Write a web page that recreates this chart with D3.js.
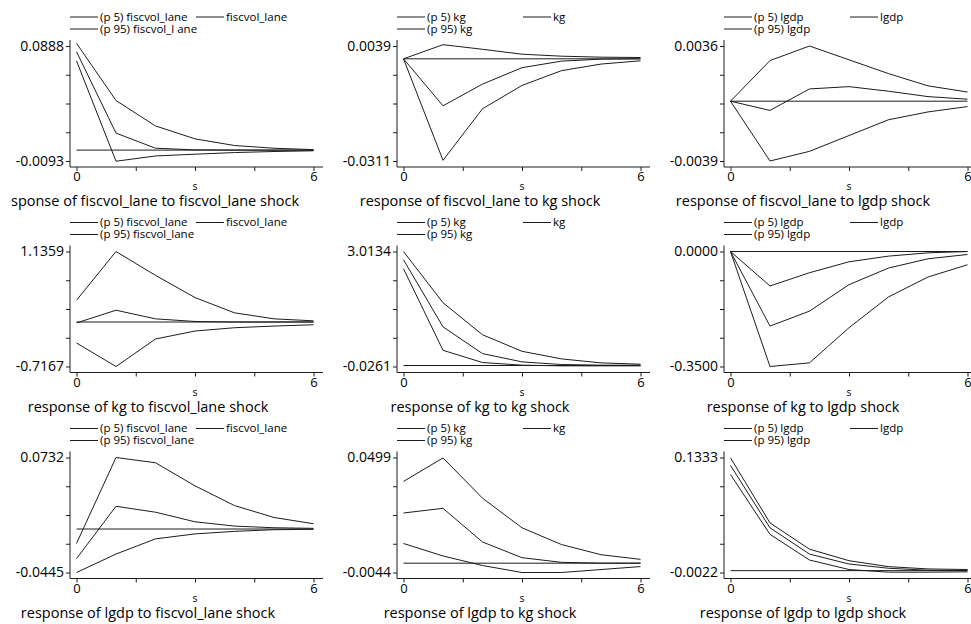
<!DOCTYPE html>
<html>
<head>
<meta charset="utf-8">
<script src="https://cdn.jsdelivr.net/npm/d3@7"></script>
<style>
  html, body { margin: 0; padding: 0; background: #fff; }
  svg { display: block; }
  text { font-family: "Open Sans", "Noto Sans", sans-serif; fill: #000; }
</style>
</head>
<body>
<svg id="chart" width="971" height="624"></svg>
<script>
// ---------------- data ----------------
const steps = [0, 1, 2, 3, 4, 5, 6];
const responseVars = ["fiscvol_lane", "kg", "lgdp"];   // rows
const impulseVars  = ["fiscvol_lane", "kg", "lgdp"];   // columns
const xTickValues = [0, 1.5, 3, 4.5, 6];
const xTickLabels = ["0", "", "", "", "6"];

// y-axis tick labels (min, max) per panel, row-major
const yMinLabels = ["-0.0093", "-0.0311", "-0.0039", "-0.7167", "-0.0261", "-0.3500", "-0.0445", "-0.0044", "-0.0022"];
const yMaxLabels = ["0.0888", "0.0039", "0.0036", "1.1359", "3.0134", "0.0000", "0.0732", "0.0499", "0.1333"];

// legend labels per panel
const legendP5  = ["(p 5) fiscvol_lane", "(p 5) kg", "(p 5) lgdp", "(p 5) fiscvol_lane", "(p 5) kg", "(p 5) lgdp", "(p 5) fiscvol_lane", "(p 5) kg", "(p 5) lgdp"];
const legendMid = ["fiscvol_lane", "kg", "lgdp", "fiscvol_lane", "kg", "lgdp", "fiscvol_lane", "kg", "lgdp"];
const legendP95 = ["(p 95) fiscvol_l ane", "(p 95) kg", "(p 95) lgdp", "(p 95) fiscvol_lane", "(p 95) kg", "(p 95) lgdp", "(p 95) fiscvol_lane", "(p 95) kg", "(p 95) lgdp"];

// response of fiscvol_lane to fiscvol_lane shock
const p5_fv_fv  = [0.0761, -0.0095, -0.0050, -0.0035, -0.0021, -0.0012, -0.0006];
const irf_fv_fv = [0.0839, 0.0145, 0.0016, 0.0002, 0.0000, 0.0000, 0.0000];
const p95_fv_fv = [0.0911, 0.0423, 0.0206, 0.0096, 0.0039, 0.0016, 0.0004];
// response of fiscvol_lane to kg shock
const p5_fv_kg  = [0.0000, -0.0309, -0.0152, -0.0081, -0.0036, -0.0016, -0.0006];
const irf_fv_kg = [0.0000, -0.0143, -0.0077, -0.0027, -0.0007, -0.0001, 0.0000];
const p95_fv_kg = [0.0000, 0.0043, 0.0029, 0.0014, 0.0008, 0.0005, 0.0004];
// response of fiscvol_lane to lgdp shock
const p5_fv_lg  = [0.0000, -0.0039, -0.00327, -0.00224, -0.00121, -0.0007, -0.00035];
const irf_fv_lg = [0.0000, -0.0006, 0.0008, 0.00095, 0.00065, 0.0003, 0.00013];
const p95_fv_lg = [0.0000, 0.00265, 0.0036, 0.0027, 0.0018, 0.0010, 0.0006];
// response of kg to fiscvol_lane shock
const p5_kg_fv  = [-0.3377, -0.7167, -0.2736, -0.1455, -0.0921, -0.0654, -0.0440];
const irf_kg_fv = [-0.0150, 0.1900, 0.0510, 0.0085, 0.0000, 0.0000, 0.0000];
const p95_kg_fv = [0.3510, 1.1359, 0.7515, 0.3940, 0.1480, 0.0512, 0.0190];
// response of kg to kg shock
const p5_kg_kg  = [2.559, 0.402, 0.079, 0.009, -0.009, -0.009, -0.009];
const irf_kg_kg = [2.795, 1.022, 0.3146, 0.096, 0.026, 0.009, 0.009];
const p95_kg_kg = [3.0134, 1.6596, 0.8124, 0.3757, 0.1748, 0.070, 0.035];
// response of kg to lgdp shock
const p5_kg_lg  = [0.0000, -0.3500, -0.3389, -0.2320, -0.1382, -0.0777, -0.0403];
const irf_kg_lg = [0.0000, -0.2269, -0.1815, -0.1009, -0.0504, -0.0222, -0.0091];
const p95_kg_lg = [0.0000, -0.1049, -0.0646, -0.0313, -0.0141, -0.0040, 0.0000];
// response of lgdp to fiscvol_lane shock
const p5_lg_fv  = [-0.0445, -0.0256, -0.0101, -0.0050, -0.0024, -0.0007, -0.0003];
const irf_lg_fv = [-0.0303, 0.0233, 0.0172, 0.0074, 0.0030, 0.0013, 0.0007];
const p95_lg_fv = [-0.0148, 0.0732, 0.0678, 0.0442, 0.0240, 0.0118, 0.0054];
// response of lgdp to kg shock
const p5_lg_kg  = [0.0093, 0.0034, -0.0011, -0.0044, -0.0044, -0.0030, -0.0016];
const irf_lg_kg = [0.0237, 0.0259, 0.0100, 0.0026, 0.0004, 0.0000, 0.0000];
const p95_lg_kg = [0.0386, 0.0497, 0.0307, 0.0167, 0.0088, 0.0040, 0.0018];
// response of lgdp to lgdp shock
const p5_lg_lg  = [0.1132, 0.0427, 0.0125, 0.0013, -0.0018, -0.0018, -0.0014];
const irf_lg_lg = [0.1240, 0.0504, 0.0195, 0.0078, 0.0028, 0.0005, 0.0000];
const p95_lg_lg = [0.1329, 0.0562, 0.0253, 0.0117, 0.0047, 0.0020, 0.0013];

const panelSeries = [
  [p5_fv_fv, irf_fv_fv, p95_fv_fv], [p5_fv_kg, irf_fv_kg, p95_fv_kg], [p5_fv_lg, irf_fv_lg, p95_fv_lg],
  [p5_kg_fv, irf_kg_fv, p95_kg_fv], [p5_kg_kg, irf_kg_kg, p95_kg_kg], [p5_kg_lg, irf_kg_lg, p95_kg_lg],
  [p5_lg_fv, irf_lg_fv, p95_lg_fv], [p5_lg_kg, irf_lg_kg, p95_lg_kg], [p5_lg_lg, irf_lg_lg, p95_lg_lg]
];

// ---------------- layout ----------------
const colAxisX = [70, 397, 724];
const colTitleCx = [78, 83, 79];
const rowTopY = [46, 251.5, 457.5];
const plotH = 115;
const LINE = "#1c1c1c";

const svg = d3.select("#chart");

for (let r = 0; r < 3; r++) {
  for (let c = 0; c < 3; c++) {
    const k = r * 3 + c;
    const ax = colAxisX[c];
    const top = rowTopY[r];
    const bottom = top + plotH;
    const yMin = +yMinLabels[k], yMax = +yMaxLabels[k];

    const x = d3.scaleLinear().domain([0, 6]).range([ax + 6.5, ax + 243.5]);
    const y = d3.scaleLinear().domain([yMin, yMax]).range([bottom, top]);

    const g = svg.append("g");

    const clipId = "clip" + k;
    const clipRect = svg.append("clipPath").attr("id", clipId)
      .append("rect").attr("x", ax - 61.5).attr("y", top - 60).attr("width", 330).attr("height", 240);

    // y axis
    const yTicks = d3.range(5).map(i => yMin + i * (yMax - yMin) / 4);
    const yAxis = d3.axisLeft(y).tickValues(yTicks).tickSize(4).tickSizeOuter(0)
      .tickFormat((d, i) => i === 0 ? yMinLabels[k] : (i === 4 ? yMaxLabels[k] : ""));
    const gy = g.append("g").attr("transform", `translate(${ax},0)`).call(yAxis);
    gy.select(".domain").remove();
    gy.selectAll(".tick line").attr("stroke", LINE);
    gy.selectAll(".tick text").attr("x", -6).style("font-size", "14px")
      .style("font-family", '"Open Sans", sans-serif').attr("fill", "#000");
    g.append("line").attr("x1", ax).attr("x2", ax).attr("y1", top - 6).attr("y2", bottom + 6)
      .attr("stroke", LINE).attr("stroke-width", 1);

    // x axis
    const xAxis = d3.axisBottom(x).tickValues(xTickValues).tickSize(4).tickSizeOuter(0)
      .tickFormat((d, i) => xTickLabels[i]);
    const gx = g.append("g").attr("transform", `translate(0,${bottom + 6})`).call(xAxis);
    gx.select(".domain").remove();
    gx.selectAll(".tick line").attr("stroke", LINE);
    gx.selectAll(".tick text").attr("y", 5).style("font-size", "13px")
      .style("font-family", '"Open Sans", sans-serif').attr("fill", "#000");
    g.append("line").attr("x1", ax).attr("x2", ax + 253).attr("y1", bottom + 6).attr("y2", bottom + 6)
      .attr("stroke", LINE).attr("stroke-width", 1);

    // x axis title
    g.append("text").attr("x", (x(0) + x(6)) / 2).attr("y", bottom + 29)
      .attr("text-anchor", "middle").style("font-size", "10.5px").text("s");

    // zero line
    g.append("line").attr("x1", x(0)).attr("x2", x(6)).attr("y1", y(0)).attr("y2", y(0))
      .attr("stroke", LINE).attr("stroke-width", 1);

    // series lines
    const line = d3.line().x((d, i) => x(steps[i])).y(d => y(d));
    panelSeries[k].forEach(s => {
      g.append("path").attr("d", line(s)).attr("fill", "none")
        .attr("stroke", LINE).attr("stroke-width", 1);
    });

    // legend
    const lg = g.append("g");
    const legendItems = [
      { label: legendP5[k],  lx: ax,       ly: top - 29 },
      { label: legendMid[k], lx: ax + 126, ly: top - 29 },
      { label: legendP95[k], lx: ax,       ly: top - 17 }
    ];
    legendItems.forEach(it => {
      lg.append("line").attr("x1", it.lx).attr("x2", it.lx + 28).attr("y1", it.ly).attr("y2", it.ly)
        .attr("stroke", LINE).attr("stroke-width", 1);
      lg.append("text").attr("x", it.lx + 30).attr("y", it.ly).attr("dy", "0.33em")
        .style("font-size", "11.5px").text(it.label);
    });

    // panel title (centered; a title wider than its panel is clipped at the left)
    const title = g.append("text").attr("clip-path", `url(#${clipId})`)
      .attr("x", ax + colTitleCx[c]).attr("y", bottom + 45)
      .attr("text-anchor", "middle").style("font-size", "14.5px")
      .text(`response of ${responseVars[r]} to ${impulseVars[c]} shock`);
    const tw = title.node().getComputedTextLength();
    const startX = ax + colTitleCx[c] - tw / 2;
    if (startX < ax - 61.5) {
      const cut = title.node().getSubStringLength(0, 2);
      clipRect.attr("x", startX + cut - 0.5);
    }
  }
}
</script>
</body>
</html>
